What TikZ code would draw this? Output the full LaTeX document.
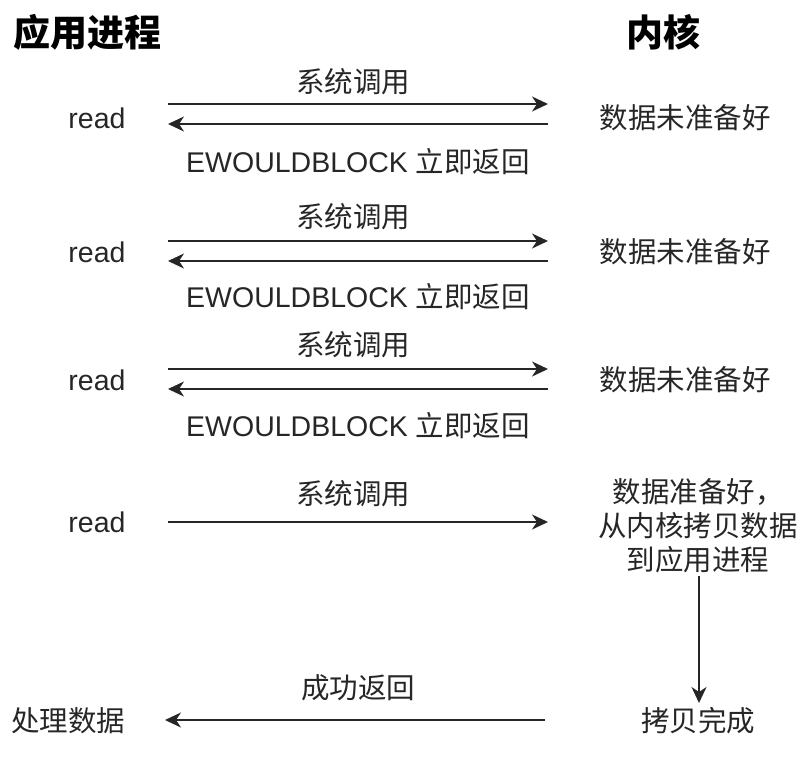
\documentclass[tikz,border=0pt]{standalone}
\usepackage{fontspec}
\setmainfont{Liberation Sans}
\newfontfamily\cjk{Noto Sans CJK SC}
\usetikzlibrary{arrows.meta}
\begin{document}
\begin{tikzpicture}[x=1pt,y=-1pt,
  txt/.style={inner sep=0pt,font=\fontsize{28.5}{34}\selectfont,text=black!85},
  ttl/.style={inner sep=0pt,font=\fontsize{37}{44}\selectfont\cjk\bfseries},
  arr/.style={line width=2pt,draw=black!85,-{Stealth[length=16pt,width=15pt,inset=5pt]}}]
\useasboundingbox (0,0) rectangle (810,764);
\node[ttl] (tapp) at (87,32) {应用进程};
\node[ttl] (tker) at (663,32) {内核};
% row 1
\node[txt] (r1) at (97,118) {read};
\node[txt] (k1) at (685,118) {\cjk 数据未准备好};
\node[txt] (c1) at (353,82) {\cjk 系统调用};
\node[txt] (e1) at (358,162) {EWOULDBLOCK {\cjk 立即返回}};
\coordinate (a1l) at (168,104); \coordinate (a1r) at (548,104);
\coordinate (b1r) at (548,124); \coordinate (b1l) at (168,124);
\draw[arr] (a1l) -- (a1r);
\draw[arr] (b1r) -- (b1l);
% row 2
\node[txt] (r2) at (97,252) {read};
\node[txt] (k2) at (685,252) {\cjk 数据未准备好};
\node[txt] (c2) at (353,217) {\cjk 系统调用};
\node[txt] (e2) at (358,297) {EWOULDBLOCK {\cjk 立即返回}};
\coordinate (a2l) at (168,241); \coordinate (a2r) at (548,241);
\coordinate (b2r) at (548,261); \coordinate (b2l) at (168,261);
\draw[arr] (a2l) -- (a2r);
\draw[arr] (b2r) -- (b2l);
% row 3
\node[txt] (r3) at (97,380) {read};
\node[txt] (k3) at (685,380) {\cjk 数据未准备好};
\node[txt] (c3) at (353,345) {\cjk 系统调用};
\node[txt] (e3) at (358,426) {EWOULDBLOCK {\cjk 立即返回}};
\coordinate (a3l) at (168,369); \coordinate (a3r) at (548,369);
\coordinate (b3r) at (548,389); \coordinate (b3l) at (168,389);
\draw[arr] (a3l) -- (a3r);
\draw[arr] (b3r) -- (b3l);
% row 4
\node[txt] (r4) at (97,522) {read};
\node[txt] (c4) at (353,494) {\cjk 系统调用};
\node[txt,align=center] (k4) at (698,526) {\cjk 数据准备好，\\\cjk 从内核拷贝数据\\\cjk 到应用进程};
\coordinate (a4l) at (168,522); \coordinate (a4r) at (548,522);
\draw[arr] (a4l) -- (a4r);
% copy done
\node[txt] (done) at (698,721) {\cjk 拷贝完成};
\coordinate (vt) at (699,576); \coordinate (vb) at (699,703);
\draw[arr] (vt) -- (vb);
% final
\node[txt] (proc) at (68,721) {\cjk 处理数据};
\node[txt] (ok) at (358,688) {\cjk 成功返回};
\coordinate (fr) at (545,720); \coordinate (fl) at (165,720);
\draw[arr] (fr) -- (fl);
\end{tikzpicture}
\end{document}
